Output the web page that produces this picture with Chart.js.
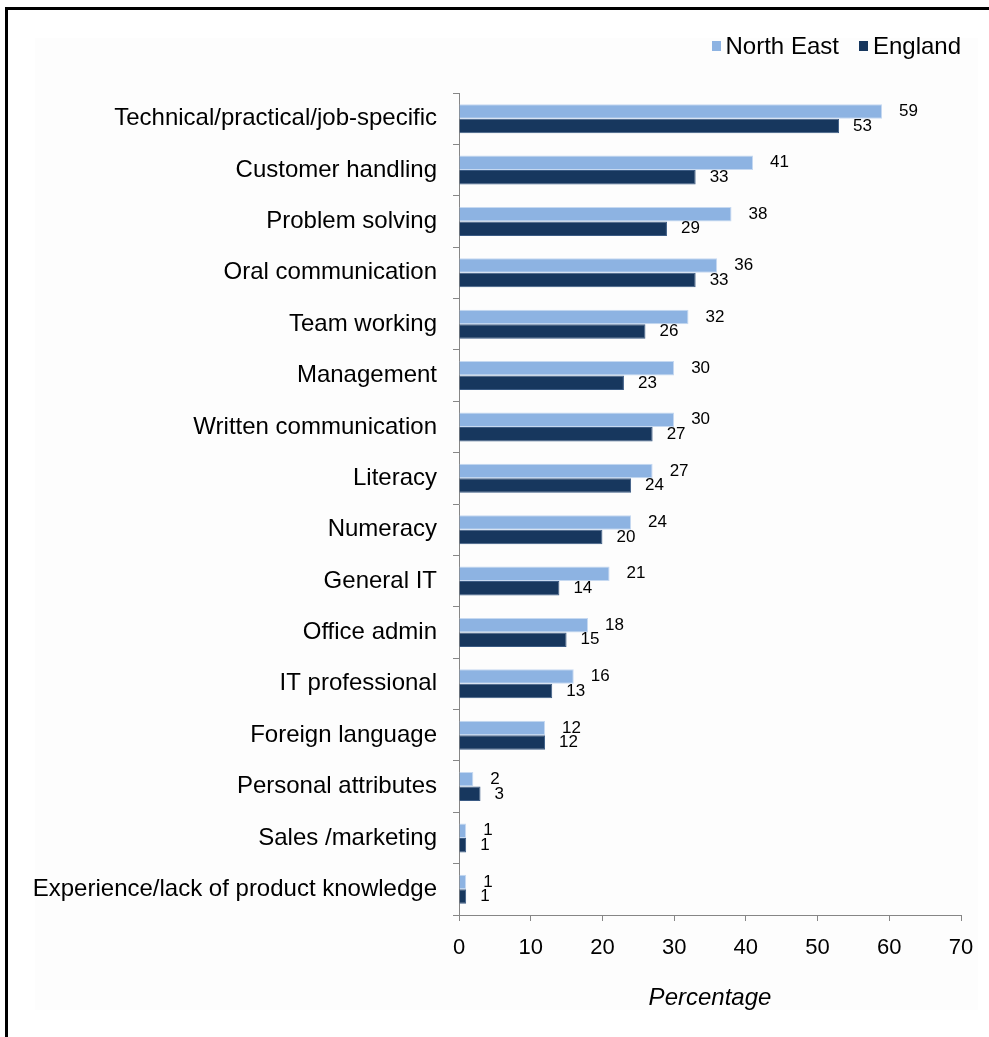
<!DOCTYPE html>
<html>
<head>
<meta charset="utf-8">
<script src="https://cdn.jsdelivr.net/npm/chart.js@4.4.1/dist/chart.umd.min.js"></script>
<style>
    html, body { margin: 0; padding: 0; background: #fff; }
    body { width: 989px; height: 1037px; position: relative; overflow: hidden; font-family: "Liberation Sans", Arial, sans-serif; }
    .frame { position: absolute; left: 5px; top: 7px; right: -10px; bottom: -10px; border-left: 3px solid #000; border-top: 3px solid #000; }
    .plot-bg { position: absolute; left: 35px; top: 38px; width: 943px; height: 972px; background: #fdfdfd; }
    #wrap { position: absolute; left: 0; top: 0; width: 989px; height: 1037px; }
    .legend { position: absolute; right: 28px; top: 32px; display: flex; align-items: center; font-size: 24px; color: #000; }
    .legend span.box { display: inline-block; width: 9px; height: 10px; margin-right: 5px; }
    .legend .item { display: flex; align-items: center; margin-left: 20px; }
</style>
</head>
<body>
<div class="frame"></div>
<div class="plot-bg"></div>
<div id="wrap"><canvas id="skillsChart"></canvas></div>
<div class="legend" id="legend"></div>
<script>
// Skills lacking among staff with skill gaps (% of establishments)
const categories = [
    'Technical/practical/job-specific',
    'Customer handling',
    'Problem solving',
    'Oral communication',
    'Team working',
    'Management',
    'Written communication',
    'Literacy',
    'Numeracy',
    'General IT',
    'Office admin',
    'IT professional',
    'Foreign language',
    'Personal attributes',
    'Sales /marketing',
    'Experience/lack of product knowledge'
];
const northEast = [59, 41, 38, 36, 32, 30, 30, 27, 24, 21, 18, 16, 12, 2, 1, 1];
const england   = [53, 33, 29, 33, 26, 23, 27, 24, 20, 14, 15, 13, 12, 3, 1, 1];
const xTicks = [0, 10, 20, 30, 40, 50, 60, 70];

const seriesNames = ['North East', 'England'];
const seriesColors = ['#8db3e2', '#17375e'];
const seriesBorders = ['#c6d9f1', '#3b5b84'];

const FONT = '"Liberation Sans", Arial, sans-serif';

/**
 * Escreve o valor de cada barra logo à direita da sua ponta.
 */
const valueLabels = {
    id: 'valueLabels',
    afterDatasetsDraw(chart) {
        const ctx = chart.ctx;
        const xScale = chart.scales.x;
        ctx.save();
        ctx.font = '17px ' + FONT;
        ctx.fillStyle = '#000';
        ctx.textAlign = 'left';
        ctx.textBaseline = 'middle';
        chart.data.datasets.forEach((ds, i) => {
            const gap = i === 0 ? 17 : 14;
            chart.getDatasetMeta(i).data.forEach((bar, j) => {
                const x = xScale.getPixelForValue(ds.data[j]) + gap;
                ctx.fillText(String(ds.data[j]), x, bar.y);
            });
        });
        ctx.restore();
    }
};

function buildLegend() {
    const legend = document.getElementById('legend');
    seriesNames.forEach((name, i) => {
        const item = document.createElement('div');
        item.className = 'item';
        const box = document.createElement('span');
        box.className = 'box';
        box.style.background = seriesColors[i];
        item.appendChild(box);
        item.appendChild(document.createTextNode(name));
        legend.appendChild(item);
    });
}

function initSkillsChart() {
    const ctx = document.getElementById('skillsChart');
    new Chart(ctx.getContext('2d'), {
        type: 'bar',
        data: {
            labels: categories,
            datasets: [northEast, england].map((values, i) => ({
                label: seriesNames[i],
                data: values,
                backgroundColor: seriesColors[i],
                borderColor: seriesBorders[i],
                borderWidth: 1,
                borderSkipped: 'start',
                categoryPercentage: 0.565,
                barPercentage: 1.0
            }))
        },
        options: {
            indexAxis: 'y',
            responsive: false,
            animation: false,
            devicePixelRatio: 1,
            layout: { padding: { top: 93, right: 28, left: 0, bottom: 0 } },
            plugins: {
                legend: { display: false },
                tooltip: { enabled: false }
            },
            scales: {
                x: {
                    min: 0,
                    max: 70,
                    afterBuildTicks: (scale) => { scale.ticks = xTicks.map(v => ({ value: v })); },
                    afterFit: (scale) => { scale.height = 122; },
                    border: { color: '#868686', width: 1 },
                    grid: { drawOnChartArea: false, tickLength: 6, color: '#868686' },
                    ticks: { color: '#000', padding: 14, font: { family: FONT, size: 22 } },
                    title: {
                        display: true,
                        text: 'Percentage',
                        color: '#000',
                        font: { family: FONT, size: 24, style: 'italic' },
                        padding: { top: 0, bottom: 24 }
                    }
                },
                y: {
                    afterFit: (scale) => { scale.width = 459; },
                    border: { color: '#868686', width: 1 },
                    grid: { drawOnChartArea: false, tickLength: 6, color: '#868686', offset: true },
                    ticks: { color: '#000', padding: 16, autoSkip: false, font: { family: FONT, size: 24 } }
                }
            }
        },
        plugins: [valueLabels]
    });
}

document.addEventListener('DOMContentLoaded', function() {
    const canvas = document.getElementById('skillsChart');
    canvas.width = 989;
    canvas.height = 1037;
    buildLegend();
    initSkillsChart();
});
</script>
</body>
</html>
